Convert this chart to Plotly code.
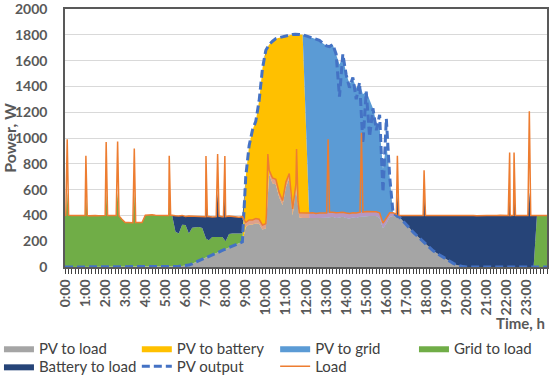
import numpy as np
import plotly.graph_objects as go

# ---------------- data (10-minute resolution, 144 points) ----------------
hour_labels = ["0:00", "1:00", "2:00", "3:00", "4:00", "5:00", "6:00", "7:00",
               "8:00", "9:00", "10:00", "11:00", "12:00", "13:00", "14:00", "15:00",
               "16:00", "17:00", "18:00", "19:00", "20:00", "21:00", "22:00", "23:00"]
hour_ticks = list(range(24))

load = [
    400, 402, 400, 398, 400, 400,   # 0
    400, 398, 400, 400, 398, 400,   # 1
    400, 400, 400, 400, 400, 370,   # 2
    345, 345, 342, 345, 345, 345,   # 3
    402, 405, 405, 402, 400, 400,   # 4
    400, 400, 402, 398, 395, 400,   # 5
    392, 395, 395, 390, 395, 395,   # 6
    390, 392, 388, 390, 395, 390,   # 7
    390, 395, 392, 390, 385, 390,   # 8
    345, 365, 365, 375, 370, 325,   # 9
    335, 750, 690, 680, 575, 515,   # 10
    660, 725, 450, 645, 420, 418,   # 11
    415, 418, 420, 415, 418, 420,   # 12
    418, 425, 425, 420, 422, 425,   # 13
    418, 415, 420, 418, 425, 425,   # 14
    430, 428, 430, 428, 420, 340,   # 15
    380, 420, 420, 410, 400, 398,   # 16
    400, 400, 400, 398, 400, 400,   # 17
    400, 402, 400, 400, 398, 400,   # 18
    400, 402, 400, 400, 398, 400,   # 19
    400, 402, 400, 398, 400, 402,   # 20
    400, 400, 398, 400, 402, 400,   # 21
    400, 398, 400, 400, 402, 400,   # 22
    400, 400, 400, 402, 400, 400,   # 23
]

pv_to_load = [
    0, 0, 0, 0, 0, 0,
    0, 0, 0, 0, 0, 0,
    0, 0, 0, 0, 0, 0,
    0, 0, 0, 0, 0, 0,
    0, 0, 0, 0, 0, 0,
    0, 0, 0, 3, 5, 8,
    10, 15, 25, 38, 50, 62,
    72, 82, 92, 105, 115, 128,
    140, 150, 162, 172, 185, 195,
    310, 330, 330, 340, 335, 290,
    300, 720, 650, 640, 540, 480,
    620, 690, 400, 610, 385, 380,
    378, 380, 380, 378, 380, 382,
    380, 385, 390, 380, 385, 390,
    380, 375, 385, 380, 390, 390,
    395, 395, 398, 395, 380, 300,
    340, 390, 395, 395, 385, 355,
    330, 300, 270, 245, 220, 195,
    170, 148, 125, 108, 92, 72,
    54, 40, 28, 16, 8, 3,
    0, 0, 0, 0, 0, 0,
    0, 0, 0, 0, 0, 0,
    0, 0, 0, 0, 0, 0,
    0, 0, 0, 0, 0, 0,
]

pv_to_battery = [
    0, 0, 0, 0, 0, 0,
    0, 0, 0, 0, 0, 0,
    0, 0, 0, 0, 0, 0,
    0, 0, 0, 0, 0, 0,
    0, 0, 0, 0, 0, 0,
    0, 0, 0, 0, 0, 0,
    0, 0, 0, 0, 0, 0,
    0, 0, 0, 0, 0, 0,
    0, 0, 0, 0, 0, 0,
    390, 610, 730, 790, 955, 1250,
    1380, 1005, 1100, 1130, 1238, 1305,
    1170, 1108, 1403, 1195, 1418, 1420,
    707, 0, 0, 0, 0, 0,
    0, 0, 0, 0, 0, 0,
    0, 0, 0, 0, 0, 0,
    0, 0, 0, 0, 0, 0,
    0, 0, 0, 0, 0, 0,
    0, 0, 0, 0, 0, 0,
    0, 0, 0, 0, 0, 0,
    0, 0, 0, 0, 0, 0,
    0, 0, 0, 0, 0, 0,
    0, 0, 0, 0, 0, 0,
    0, 0, 0, 0, 0, 0,
    0, 0, 0, 0, 0, 0,
]

pv_to_grid = [
    0, 0, 0, 0, 0, 0,
    0, 0, 0, 0, 0, 0,
    0, 0, 0, 0, 0, 0,
    0, 0, 0, 0, 0, 0,
    0, 0, 0, 0, 0, 0,
    0, 0, 0, 0, 0, 0,
    0, 0, 0, 0, 0, 0,
    0, 0, 0, 0, 0, 0,
    0, 0, 0, 0, 0, 0,
    0, 0, 0, 0, 0, 0,
    0, 0, 0, 0, 0, 0,
    0, 0, 0, 0, 0, 0,
    707, 1405, 1398, 1392, 1378, 1353,
    1335, 1323, 1335, 1270, 1185, 1240,
    1120, 1045, 1075, 1010, 1030, 950,
    965, 895, 832, 725, 700, 460,
    620, 310, 25, 0, 0, 0,
    0, 0, 0, 0, 0, 0,
    0, 0, 0, 0, 0, 0,
    0, 0, 0, 0, 0, 0,
    0, 0, 0, 0, 0, 0,
    0, 0, 0, 0, 0, 0,
    0, 0, 0, 0, 0, 0,
    0, 0, 0, 0, 0, 0,
]

grid_to_load = [
    400, 402, 400, 398, 400, 400,
    400, 398, 400, 400, 398, 400,
    400, 400, 400, 400, 400, 370,
    345, 345, 342, 345, 345, 345,
    402, 405, 405, 402, 400, 400,
    400, 400, 402, 270, 255, 320,
    315, 245, 280, 270, 260, 240,
    150, 125, 140, 128, 118, 105,
    60, 105, 98, 88, 75, 65,
    0, 0, 0, 0, 0, 0,
    0, 0, 0, 0, 0, 0,
    0, 0, 0, 0, 0, 0,
    0, 0, 0, 0, 0, 0,
    0, 0, 0, 0, 0, 0,
    0, 0, 0, 0, 0, 0,
    0, 0, 0, 0, 0, 0,
    0, 0, 0, 0, 0, 0,
    0, 0, 0, 0, 0, 0,
    0, 0, 0, 0, 0, 0,
    0, 0, 0, 0, 0, 0,
    0, 0, 0, 0, 0, 0,
    0, 0, 0, 0, 0, 0,
    0, 0, 0, 0, 0, 0,
    0, 0, 0, 402, 400, 400,
]

battery_to_load = [
    0, 0, 0, 0, 0, 0,
    0, 0, 0, 0, 0, 0,
    0, 0, 0, 0, 0, 0,
    0, 0, 0, 0, 0, 0,
    0, 0, 0, 0, 0, 0,
    0, 0, 0, 125, 135, 72,
    67, 135, 90, 82, 85, 93,
    168, 185, 156, 157, 162, 157,
    190, 140, 132, 130, 125, 130,
    0, 0, 0, 0, 0, 0,
    0, 0, 0, 0, 0, 0,
    0, 0, 0, 0, 0, 0,
    0, 0, 0, 0, 0, 0,
    0, 0, 0, 0, 0, 0,
    0, 0, 0, 0, 0, 0,
    0, 0, 0, 0, 0, 0,
    0, 0, 0, 0, 15, 43,
    70, 100, 130, 153, 180, 205,
    230, 254, 275, 292, 306, 328,
    346, 362, 372, 384, 390, 397,
    400, 402, 400, 398, 400, 402,
    400, 400, 398, 400, 402, 400,
    400, 398, 400, 400, 402, 400,
    400, 400, 400, 0, 0, 0,
]

pv_output = [
    0, 0, 0, 0, 0, 0,
    0, 0, 0, 0, 0, 0,
    0, 0, 0, 0, 0, 0,
    0, 0, 0, 0, 0, 0,
    0, 0, 0, 0, 0, 0,
    0, 0, 0, 3, 5, 8,
    10, 15, 25, 38, 50, 62,
    72, 82, 92, 105, 115, 128,
    140, 150, 162, 172, 185, 195,
    700, 940, 1060, 1130, 1290, 1540,
    1680, 1725, 1750, 1770, 1778, 1785,
    1790, 1798, 1803, 1805, 1803, 1800,
    1792, 1785, 1778, 1770, 1758, 1735,
    1715, 1708, 1725, 1650, 1320, 1650,
    1490, 1390, 1470, 1300, 1430, 960,
    1360, 1010, 1230, 1060, 1180, 580,
    1150, 700, 420, 395, 385, 355,
    330, 300, 270, 245, 220, 195,
    170, 148, 125, 108, 92, 72,
    54, 40, 28, 16, 8, 3,
    0, 0, 0, 0, 0, 0,
    0, 0, 0, 0, 0, 0,
    0, 0, 0, 0, 0, 0,
    0, 0, 0, 0, 0, 0,
]

# short load peaks (hour, W)
spike_times = [0.11, 1.04, 2.05, 2.62, 3.45, 5.19, 7.02, 7.6, 7.96, 10.1,
               11.53, 13.1, 14.76, 16.55, 17.88, 22.14, 22.36, 23.12]
spike_peaks = [990, 862, 969, 972, 918, 862, 860, 875, 860, 875,
               915, 990, 1040, 862, 750, 887, 887, 1208]
spike_area_level = 580

# ---------------- build time grid ----------------
t = np.arange(144) / 6.0
t_ext = np.append(t, 24.0)
half = 0.07
xs = set(np.round(t_ext, 6).tolist())
for s in spike_times:
    xs.update([round(s - half, 6), round(s, 6), round(s + half, 6)])
x = np.array(sorted(xs))


def fine(a):
    a = np.asarray(a, dtype=float)
    return np.interp(x, t_ext, np.append(a, a[-1]))


g_pvl = fine(pv_to_load)
g_pvb = fine(pv_to_battery)
g_pvg = fine(pv_to_grid)
g_grid = fine(grid_to_load)
g_bat = fine(battery_to_load)
g_pv = fine(pv_output)
g_load_base = fine(load)
g_load = g_load_base.copy()

for s, p in zip(spike_times, spike_peaks):
    k = int(np.argmin(np.abs(x - s)))
    g_load[k] = p
    extra = spike_area_level - g_load_base[k]
    if g_bat[k] > 1:
        g_bat[k] += extra
    elif g_grid[k] > 1:
        g_grid[k] += extra

supply = g_pvl + g_grid + g_bat
pink_top = np.maximum(g_load_base, supply)

# ---------------- figure ----------------
fig = go.Figure()
areas = [
    ("PV to load", g_pvl, "#A5A5A5", "legend"),
    ("PV to battery", g_pvb, "#FFC000", "legend2"),
    ("PV to grid", g_pvg, "#5B9BD5", "legend3"),
    ("Grid to load", g_grid, "#70AD47", "legend4"),
    ("Battery to load", g_bat, "#264478", "legend5"),
]
for name, yv, col, lg in areas:
    fig.add_trace(go.Scatter(x=x, y=yv, name=name, mode="lines", stackgroup="one",
                             line=dict(width=0, color=col), fillcolor=col, legend=lg))

fig.add_trace(go.Scatter(x=x, y=supply, mode="lines", line=dict(width=0),
                         showlegend=False, hoverinfo="skip"))
fig.add_trace(go.Scatter(x=x, y=pink_top, mode="lines", line=dict(width=0),
                         fill="tonexty", fillcolor="rgba(214,150,185,0.75)",
                         showlegend=False, hoverinfo="skip"))

fig.add_trace(go.Scatter(x=x, y=g_pv, name="PV output", mode="lines", legend="legend6",
                         line=dict(color="#4472C4", width=3, dash="8px,4px")))
fig.add_trace(go.Scatter(x=x, y=g_load, name="Load", mode="lines", legend="legend7",
                         line=dict(color="#ED7D31", width=1.5)))

axis_font = dict(family="Lato", size=14, color="#595959", weight="bold")
legend_common = dict(orientation="v", xref="paper", yref="paper",
                     xanchor="left", yanchor="top", traceorder="normal",
                     font=dict(family="Lato", size=15, color="#404040"),
                     itemwidth=30, tracegroupgap=0, bgcolor="rgba(0,0,0,0)")
row1, row2 = -0.252, -0.322
col_x = [-0.137, 0.149, 0.436, 0.724]
fig.update_layout(
    width=550, height=379,
    margin=dict(l=65, r=3, t=9, b=112, autoexpand=False),
    plot_bgcolor="white", paper_bgcolor="white",
    font=dict(family="Lato", color="#404040"),
    showlegend=True,
    legend=dict(legend_common, x=col_x[0], y=row1),
    legend2=dict(legend_common, x=col_x[1], y=row1),
    legend3=dict(legend_common, x=col_x[2], y=row1),
    legend4=dict(legend_common, x=col_x[3], y=row1),
    legend5=dict(legend_common, x=col_x[0], y=row2),
    legend6=dict(legend_common, x=col_x[1], y=row2),
    legend7=dict(legend_common, x=col_x[2], y=row2),
    xaxis=dict(range=[0, 24], tickmode="array", tickvals=hour_ticks, ticktext=hour_labels,
               tickangle=-90, ticks="outside", ticklen=5, tickcolor="#404040",
               minor=dict(tickmode="linear", tick0=0, dtick=1 / 6, ticks="outside",
                          ticklen=5, tickcolor="#404040"),
               showline=True, linecolor="#595959", linewidth=1.5, mirror=True,
               showgrid=False, zeroline=False, tickfont=axis_font,
               automargin=False, ticklabeloverflow="allow"),
    yaxis=dict(range=[0, 2000], dtick=200, showgrid=True, gridcolor="#D9D9D9",
               showline=True, linecolor="#595959", linewidth=1.5, mirror=True,
               ticks="", zeroline=False, tickfont=axis_font, ticklabelstandoff=13,
               automargin=False, ticklabeloverflow="allow",
               title=dict(text="Power, W", font=dict(family="Lato", size=16,
                                                      color="#595959", weight="bold"),
                          standoff=2)),
    annotations=[dict(text="Time, h", xref="paper", yref="paper", x=1.0, y=-0.217,
                      xanchor="right", yanchor="middle", showarrow=False,
                      font=dict(family="Lato", size=15, color="#595959", weight="bold"))],
)

fig.write_html("out.html", config={"displayModeBar": False},
               post_script="document.body.style.margin='0';document.body.style.overflow='hidden';")
